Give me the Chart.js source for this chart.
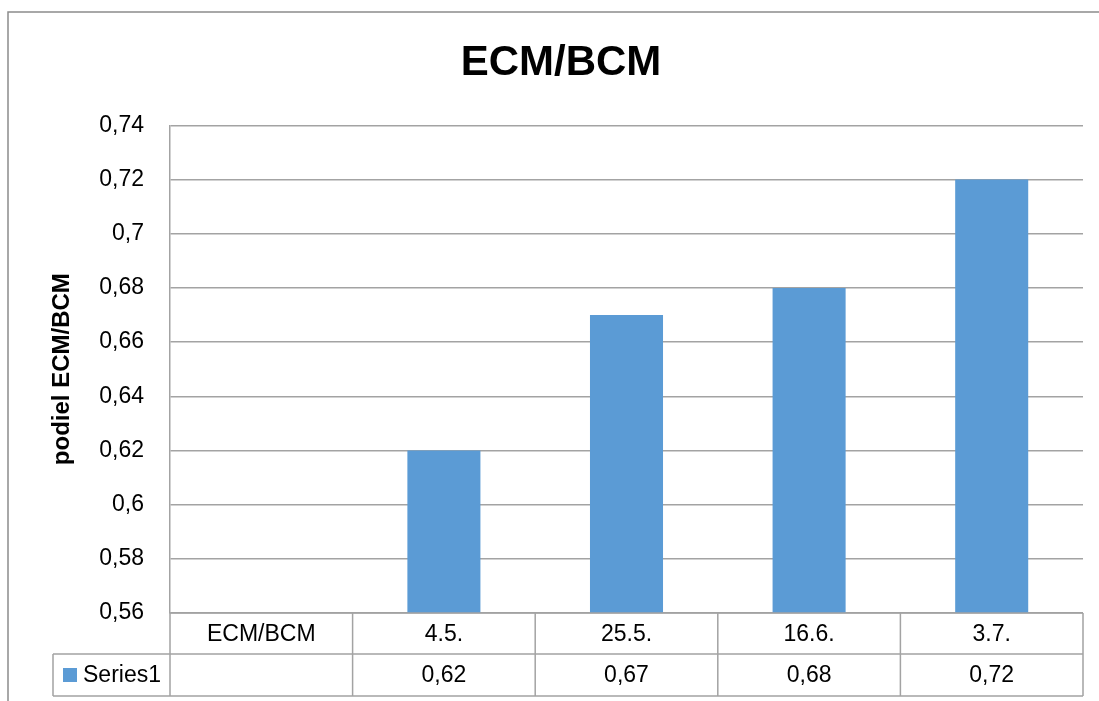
<!DOCTYPE html>
<html>
<head>
<meta charset="utf-8">
<title>ECM/BCM</title>
<script src="https://cdn.jsdelivr.net/npm/chart.js@4.4.1/dist/chart.umd.min.js"></script>
<style>
  html, body { margin: 0; padding: 0; background: #fff; }
  #wrap { width: 1099px; height: 701px; position: relative; }
</style>
</head>
<body>
<div id="wrap"><canvas id="chart"></canvas></div>
<script>
/* ================= DATA ================= */
const categories = ["ECM/BCM", "4.5.", "25.5.", "16.6.", "3.7."];
const series1 = [null, 0.62, 0.67, 0.68, 0.72];
const seriesName = "Series1";
const yMin = 0.56;
const yMax = 0.74;
const yStep = 0.02;

const FONT = "'Liberation Sans', Arial, sans-serif";
const GRID = "#a3a3a3";
const BAR = "#5b9bd5";

// 0.7 -> "0,7", 0.62 -> "0,62"
function fmt(v) {
  return String(Math.round(v * 100) / 100).replace(".", ",");
}

/* ================= FRAME + DATA TABLE ================= */
const framePlugin = {
  id: "frame",
  beforeDraw(chart) {
    const ctx = chart.ctx;
    ctx.save();
    ctx.fillStyle = "#fff";
    ctx.fillRect(0, 0, chart.width, chart.height);
    ctx.strokeStyle = "#8c8c8c";
    ctx.lineWidth = 1.5;
    ctx.strokeRect(8, 12, 1200, 800);
    ctx.restore();
  }
};

const tablePlugin = {
  id: "dataTable",
  afterDraw(chart) {
    const ctx = chart.ctx;
    const area = chart.chartArea;
    const x = chart.scales.x;
    const catW = (area.right - area.left) / categories.length;
    const top = area.bottom;
    const r1 = top + 41;
    const r2 = top + 83;
    const legLeft = 53;

    ctx.save();
    ctx.strokeStyle = GRID;
    ctx.lineWidth = 1.5;
    ctx.beginPath();
    ctx.moveTo(area.left, top); ctx.lineTo(area.right, top);
    ctx.moveTo(legLeft, r1); ctx.lineTo(area.right, r1);
    ctx.moveTo(legLeft, r2); ctx.lineTo(area.right, r2);
    for (let i = 0; i <= categories.length; i++) {
      const cx = area.left + i * catW;
      ctx.moveTo(cx, top); ctx.lineTo(cx, r2);
    }
    ctx.moveTo(legLeft, r1); ctx.lineTo(legLeft, r2);
    ctx.stroke();

    ctx.fillStyle = "#000";
    ctx.font = "23px " + FONT;
    ctx.textAlign = "center";
    ctx.textBaseline = "middle";
    categories.forEach((c, i) => {
      const cx = x.getPixelForValue(i);
      ctx.fillText(c, cx, (top + r1) / 2 + 1);
      if (series1[i] !== null) {
        ctx.fillText(fmt(series1[i]), cx, (r1 + r2) / 2 + 1);
      }
    });

    // legend key
    ctx.fillStyle = BAR;
    ctx.fillRect(63, (r1 + r2) / 2 - 7, 14, 14);
    ctx.fillStyle = "#000";
    ctx.textAlign = "left";
    ctx.fillText(seriesName, 83, (r1 + r2) / 2 + 1);
    ctx.restore();
  }
};

/* ================= CHART ================= */
new Chart(document.getElementById("chart").getContext("2d"), {
  type: "bar",
  data: {
    labels: categories,
    datasets: [{
      label: seriesName,
      data: series1,
      backgroundColor: BAR,
      borderWidth: 0,
      categoryPercentage: 1,
      barPercentage: 0.4
    }]
  },
  options: {
    responsive: true,
    maintainAspectRatio: false,
    animation: false,
    layout: { padding: { left: 39, right: 16, top: 0, bottom: 0 } },
    plugins: {
      legend: { display: false },
      tooltip: { enabled: false },
      title: {
        display: true,
        text: "ECM/BCM",
        color: "#000",
        font: { family: FONT, size: 42, weight: "bold", lineHeight: 1.2 },
        padding: { top: 38, bottom: 37 }
      }
    },
    scales: {
      x: {
        ticks: { display: false },
        grid: { display: false },
        border: { display: false },
        afterFit(scale) { scale.height = 88; }
      },
      y: {
        min: yMin,
        max: yMax,
        ticks: {
          stepSize: yStep,
          padding: 26,
          color: "#000",
          font: { family: FONT, size: 23 },
          callback: (v) => fmt(v)
        },
        grid: { color: GRID, lineWidth: 1.5, drawTicks: false },
        border: { display: true, color: GRID, width: 1.5 },
        title: {
          display: true,
          text: "podiel ECM/BCM",
          color: "#000",
          font: { family: FONT, size: 24, weight: "bold", lineHeight: 1.2 },
          padding: { top: 9, bottom: 0 }
        },
        afterFit(scale) { scale.width = 131; }
      }
    }
  },
  plugins: [framePlugin, tablePlugin]
});
</script>
</body>
</html>
